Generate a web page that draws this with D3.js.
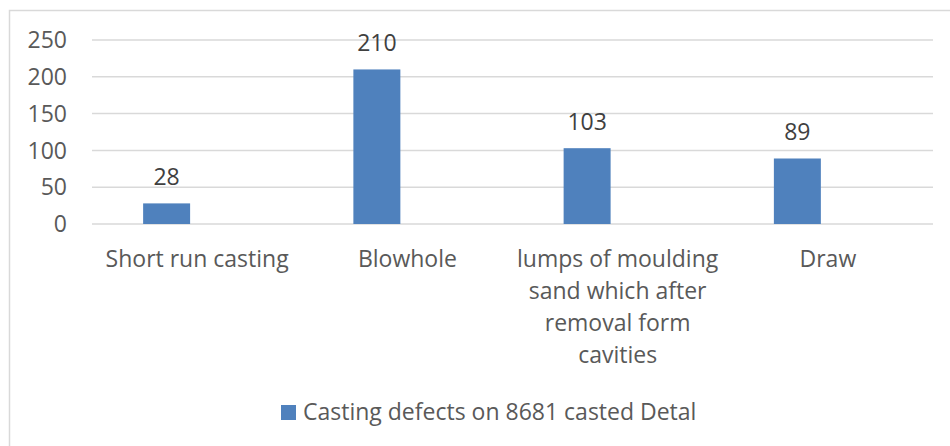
<!DOCTYPE html>
<html>
<head>
<meta charset="utf-8">
<script src="https://cdn.jsdelivr.net/npm/d3@7"></script>
<style>
  body { margin: 0; background: #fff; }
  text { font-family: "Open Sans", "Noto Sans", sans-serif; fill: #595959; }
</style>
</head>
<body>
<div id="chart"></div>
<script>
// chart data
var categories = [
    ["Short run casting"],
    ["Blowhole"],
    ["lumps of moulding", "sand which after", "removal form", "cavities"],
    ["Draw"]
];
var defects = [28, 210, 103, 89];
var yTicks = [0, 50, 100, 150, 200, 250];
var seriesName = "Casting defects on 8681 casted Detal";

var width = 950, height = 446;
var margin = { top: 40, right: 17, bottom: 222, left: 92 };
var innerW = width - margin.left - margin.right,
    innerH = height - margin.top - margin.bottom;

var svg = d3.select("#chart").append("svg")
    .attr("width", width)
    .attr("height", height);

// outer chart frame
svg.append("rect")
    .attr("x", 9.5).attr("y", 10.5)
    .attr("width", 960).attr("height", 460)
    .attr("fill", "none")
    .attr("stroke", "#d9d9d9")
    .attr("stroke-width", 1.5);

var g = svg.append("g")
    .attr("transform", "translate(" + margin.left + "," + margin.top + ")");

var x0 = d3.scaleBand()
    .domain(d3.range(categories.length))
    .range([0, innerW]);

// second slot of each group is an empty series, so bars sit left of centre
var x1 = d3.scaleBand()
    .domain(["defects", "empty"])
    .range([x0.bandwidth() / 2 - 54, x0.bandwidth() / 2 + 54])
    .paddingInner(0.23);

var y = d3.scaleLinear()
    .domain([0, 250])
    .range([innerH, 0]);

// gridlines
g.selectAll(".grid")
    .data(yTicks)
    .enter().append("line")
    .attr("class", "grid")
    .attr("x1", 0).attr("x2", innerW)
    .attr("y1", function(d) { return y(d); })
    .attr("y2", function(d) { return y(d); })
    .attr("stroke", "#d9d9d9")
    .attr("stroke-width", 1.5);

// y labels
g.selectAll(".ylab")
    .data(yTicks)
    .enter().append("text")
    .attr("class", "ylab")
    .attr("x", -25)
    .attr("y", function(d) { return y(d); })
    .attr("dy", "0.36em")
    .style("text-anchor", "end")
    .style("font-size", "23px")
    .text(function(d) { return d; });

// bars
g.selectAll(".bar")
    .data(defects)
    .enter().append("rect")
    .attr("class", "bar")
    .attr("x", function(d, i) { return x0(i) + x1("defects"); })
    .attr("width", x1.bandwidth())
    .attr("y", function(d) { return y(d); })
    .attr("height", function(d) { return innerH - y(d); })
    .attr("fill", "#4f81bd");

// value labels
g.selectAll(".val")
    .data(defects)
    .enter().append("text")
    .attr("class", "val")
    .attr("x", function(d, i) { return x0(i) + x1("defects") + x1.bandwidth() / 2; })
    .attr("y", function(d) { return y(d) - 18; })
    .style("text-anchor", "middle")
    .style("font-size", "23px")
    .style("fill", "#404040")
    .text(function(d) { return d; });

// category labels
var cat = g.selectAll(".cat")
    .data(categories)
    .enter().append("text")
    .attr("class", "cat")
    .attr("x", function(d, i) { return x0(i) + x0.bandwidth() / 2; })
    .attr("y", innerH + 43)
    .style("text-anchor", "middle")
    .style("font-size", "23px");

cat.selectAll("tspan")
    .data(function(d) { return d; })
    .enter().append("tspan")
    .attr("x", function() { return d3.select(this.parentNode).attr("x"); })
    .attr("dy", function(d, i) { return i == 0 ? 0 : 32; })
    .text(function(d) { return d; });

// legend
var legend = svg.append("g")
    .attr("transform", "translate(281,405)");

legend.append("rect")
    .attr("width", 15).attr("height", 15)
    .attr("fill", "#4f81bd");

legend.append("text")
    .attr("x", 22)
    .attr("y", 15)
    .style("font-size", "23px")
    .text(seriesName);
</script>
</body>
</html>
